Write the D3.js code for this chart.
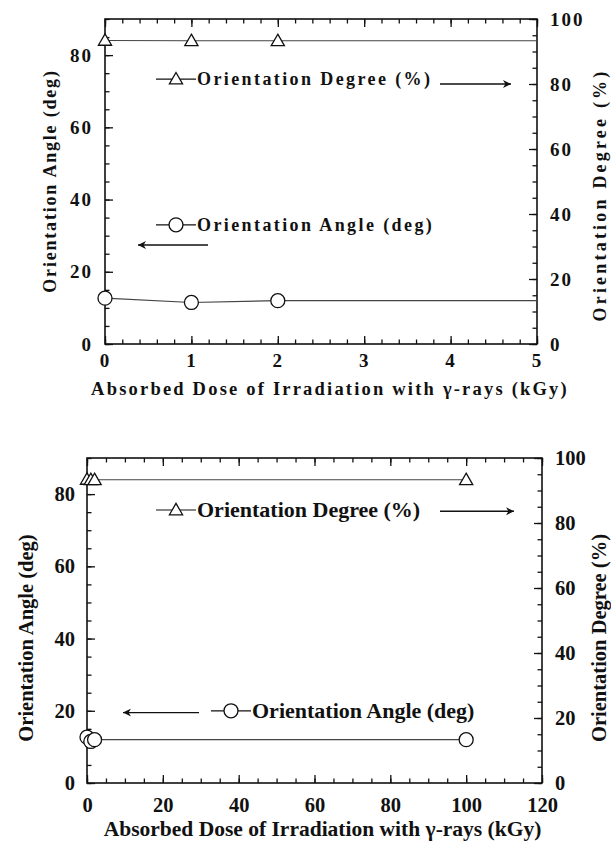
<!DOCTYPE html>
<html><head><meta charset="utf-8">
<script src="https://cdn.jsdelivr.net/npm/d3@7"></script>
<style>
html,body{margin:0;padding:0;background:#fff;}
svg text{font-family:"Liberation Serif","Times New Roman",serif;font-weight:bold;fill:#111;}
</style></head>
<body>
<svg id="c" width="611" height="841"></svg>
<script>
// ---- data ----
const dose = [0, 1, 2, 100];                          // kGy
const orientationAngle = [12.7, 11.5, 12.0, 12.0];    // deg (left axis)
const orientationDegree = [93.4, 93.3, 93.3, 93.3];   // % (right axis)
const leftTicks = [0, 20, 40, 60, 80];
const rightTicks = [0, 20, 40, 60, 80, 100];
const topXTicks = [0, 1, 2, 3, 4, 5];
const bottomXTicks = [0, 20, 40, 60, 80, 100, 120];
const xTitle = "Absorbed Dose of Irradiation with \u03b3-rays (kGy)";
const xTitle2 = "Absorbed Dose of Irradiation with  \u03b3-rays (kGy)";
const leftTitle = "Orientation Angle (deg)";
const rightTitle = "Orientation Degree (%)";
const degLegend = "Orientation Degree (%)";
const angLegend = "Orientation Angle (deg)";

const svg = d3.select("#c");
const defs = svg.append("defs");
defs.append("marker").attr("id","ah").attr("viewBox","0 0 10 10").attr("refX",10).attr("refY",5)
  .attr("markerWidth",11).attr("markerHeight",8).attr("markerUnits","userSpaceOnUse").attr("orient","auto")
  .append("path").attr("d","M0,0 L10,5 L0,10 L3,5 Z").attr("fill","#111");

function panel(cfg){
  const g = svg.append("g");
  const x = d3.scaleLinear().domain(cfg.xDomain).range([cfg.left, cfg.right]);
  const yL = d3.scaleLinear().domain([0, 90]).range([cfg.bottom, cfg.top]);
  const yR = d3.scaleLinear().domain([0, 100]).range([cfg.bottom, cfg.top]);

  const xMinor = d3.range(cfg.xDomain[0], cfg.xDomain[1] + 1e-9, cfg.xMinor);
  const lMinor = d3.range(0, 90 + 1e-9, 5);
  const rMinor = d3.range(0, 100 + 1e-9, 5);

  const axB = d3.axisBottom(x).tickValues(cfg.xTicks).tickSize(-8).tickPadding(cfg.xPad).tickFormat(d3.format("d"));
  const axBm = d3.axisBottom(x).tickValues(xMinor).tickSize(-4.5).tickFormat("");
  const axT = d3.axisTop(x).tickValues(cfg.xTicks).tickSize(-8).tickFormat("");
  const axTm = d3.axisTop(x).tickValues(xMinor).tickSize(-4.5).tickFormat("");
  const axL = d3.axisLeft(yL).tickValues(leftTicks).tickSize(-8).tickPadding(12);
  const axLm = d3.axisLeft(yL).tickValues(lMinor).tickSize(-4.5).tickFormat("");
  const axR = d3.axisRight(yR).tickValues(rightTicks).tickSize(-8).tickPadding(13);
  const axRm = d3.axisRight(yR).tickValues(rMinor).tickSize(-4.5).tickFormat("");

  function style(sel){
    sel.select(".domain").remove();
    sel.selectAll("line").attr("stroke","#111").attr("stroke-width",1.3);
    sel.selectAll("text").attr("font-size",cfg.tfs).attr("letter-spacing",cfg.tls).attr("fill","#111")
      .style("font-family","'Liberation Serif',serif").style("font-weight","bold");
  }
  g.append("g").attr("transform",`translate(0,${cfg.bottom})`).call(axB).call(style);
  g.append("g").attr("transform",`translate(0,${cfg.bottom})`).call(axBm).call(style);
  g.append("g").attr("transform",`translate(0,${cfg.top})`).call(axT).call(style);
  g.append("g").attr("transform",`translate(0,${cfg.top})`).call(axTm).call(style);
  g.append("g").attr("transform",`translate(${cfg.left},0)`).call(axL).call(style);
  g.append("g").attr("transform",`translate(${cfg.left},0)`).call(axLm).call(style);
  g.append("g").attr("transform",`translate(${cfg.right},0)`).call(axR).call(style);
  g.append("g").attr("transform",`translate(${cfg.right},0)`).call(axRm).call(style);

  g.append("rect").attr("x",cfg.left).attr("y",cfg.top).attr("width",cfg.right-cfg.left)
    .attr("height",cfg.bottom-cfg.top).attr("fill","none").attr("stroke","#111").attr("stroke-width",1.6);

  const cid = "clip"+cfg.id;
  defs.append("clipPath").attr("id",cid).append("rect").attr("x",cfg.left).attr("y",cfg.top)
    .attr("width",cfg.right-cfg.left).attr("height",cfg.bottom-cfg.top);

  const ptsA = dose.map((d,i)=>({x:d,y:orientationAngle[i]}));
  const ptsD = dose.map((d,i)=>({x:d,y:orientationDegree[i]}));
  const lineA = d3.line().x(d=>x(d.x)).y(d=>yL(d.y));
  const lineD = d3.line().x(d=>x(d.x)).y(d=>yR(d.y));
  const dg = g.append("g").attr("clip-path",`url(#${cid})`);
  dg.append("path").attr("d",lineA(ptsA)).attr("fill","none").attr("stroke","#444").attr("stroke-width",1.1);
  dg.append("path").attr("d",lineD(ptsD)).attr("fill","none").attr("stroke","#444").attr("stroke-width",1.1);

  const tri = d3.symbol().type(d3.symbolTriangle).size(75);
  const inX = d => d.x >= cfg.xDomain[0] && d.x <= cfg.xDomain[1];
  g.selectAll(null).data(ptsD.filter(inX)).enter().append("path")
    .attr("d",tri).attr("transform",d=>`translate(${x(d.x)},${yR(d.y)+1})`)
    .attr("fill","#fff").attr("stroke","#111").attr("stroke-width",1.3);
  g.selectAll(null).data(ptsA.filter(inX)).enter().append("circle")
    .attr("cx",d=>x(d.x)).attr("cy",d=>yL(d.y)).attr("r",7)
    .attr("fill","#fff").attr("stroke","#111").attr("stroke-width",1.3);

  // legends (placed in data units of the axes they refer to)
  const L = cfg.leg;
  const dy = yR(L.degY), day = yR(L.degArrowY);
  const ay = yL(L.angY), aay = yL(L.angArrowY);
  g.append("line").attr("x1",L.dx0).attr("x2",L.dx0+L.lw).attr("y1",dy).attr("y2",dy).attr("stroke","#111").attr("stroke-width",1.2);
  g.append("path").attr("d",tri).attr("transform",`translate(${L.dx0+L.lw/2},${dy+1})`).attr("fill","#fff").attr("stroke","#111").attr("stroke-width",1.3);
  g.append("text").attr("x",L.dx0+L.lw+1).attr("y",dy+L.fs*0.33).attr("font-size",L.fs).attr("letter-spacing",L.ls).text(degLegend);
  g.append("line").attr("x1",L.da[0]).attr("x2",L.da[1]).attr("y1",day).attr("y2",day)
    .attr("stroke","#111").attr("stroke-width",1.4).attr("marker-end","url(#ah)");

  g.append("line").attr("x1",L.ax0).attr("x2",L.ax0+L.lw).attr("y1",ay).attr("y2",ay).attr("stroke","#111").attr("stroke-width",1.2);
  g.append("circle").attr("cx",L.ax0+L.lw/2).attr("cy",ay).attr("r",7).attr("fill","#fff").attr("stroke","#111").attr("stroke-width",1.3);
  g.append("text").attr("x",L.ax0+L.lw+1).attr("y",ay+L.fs*0.33).attr("font-size",L.fs).attr("letter-spacing",L.ls).text(angLegend);
  g.append("line").attr("x1",L.aa[0]).attr("x2",L.aa[1]).attr("y1",aay).attr("y2",aay)
    .attr("stroke","#111").attr("stroke-width",1.4).attr("marker-end","url(#ah)");

  // titles
  g.append("text").attr("x",(cfg.left+cfg.right)/2 + cfg.xtOff).attr("y",cfg.xtY).attr("text-anchor","middle")
    .attr("font-size",cfg.xtfs).attr("letter-spacing",cfg.xtls).text(cfg.xTitle);
  g.append("text").attr("transform",`translate(${cfg.ltx},${cfg.lty}) rotate(-90)`)
    .attr("text-anchor","middle").attr("font-size",cfg.yfs).attr("letter-spacing",cfg.lyls).text(leftTitle);
  g.append("text").attr("transform",`translate(${cfg.rtx},${cfg.rty}) rotate(-90)`)
    .attr("text-anchor","middle").attr("font-size",cfg.yfs).attr("letter-spacing",cfg.ryls).text(rightTitle);
}

panel({id:1, xDomain:[0,5], xTicks:topXTicks, xMinor:0.2, left:105, right:537, top:19, bottom:344,
  tfs:19, tls:2, xPad:10, xtfs:18.5, xtls:2.2, xTitle:xTitle, xtOff:9, xtY:395,
  yfs:18, lyls:1.8, ryls:3.2, ltx:56, lty:181, rtx:606, rty:195,
  leg:{fs:18, ls:2.4, lw:40, dx0:156, degY:81.5, da:[440,511], degArrowY:80,
       ax0:156, angY:33, aa:[208,138], angArrowY:27.4}});
panel({id:2, xDomain:[0,120], xTicks:bottomXTicks, xMinor:5, left:87, right:542, top:458, bottom:783,
  tfs:20.5, tls:0, xPad:14, xtfs:21.5, xtls:0, xTitle:xTitle2, xtOff:8, xtY:836,
  yfs:20.5, lyls:0, ryls:0, ltx:33, lty:638, rtx:606, rty:638,
  leg:{fs:22, ls:0, lw:40, dx0:156, degY:84, da:[440,514], degArrowY:83.6,
       ax0:211, angY:20, aa:[199,123], angArrowY:19.5}});
</script>
</body></html>
